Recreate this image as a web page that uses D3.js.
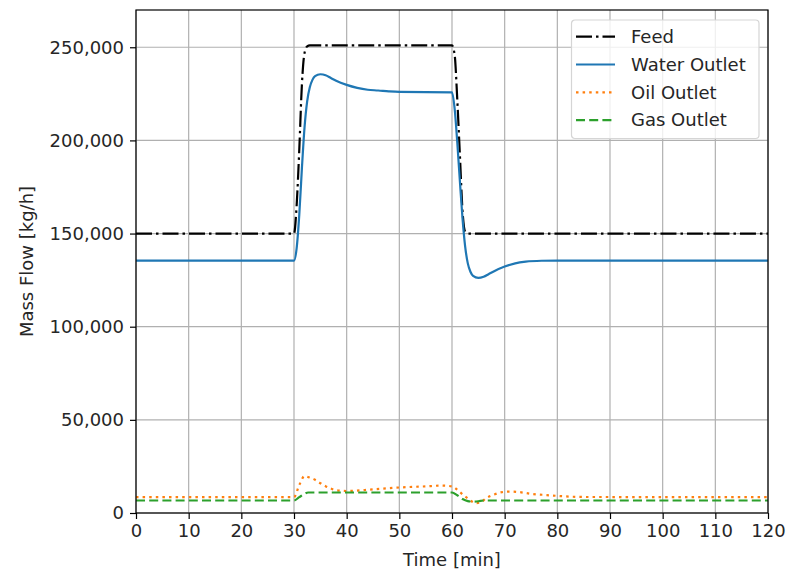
<!DOCTYPE html>
<html>
<head>
<meta charset="utf-8">
<script src="https://cdn.jsdelivr.net/npm/d3@7"></script>
<style>
  body { margin: 0; background: #fff; }
  svg { display: block; font-family: "DejaVu Sans", sans-serif; }
</style>
</head>
<body>
<svg id="chart" width="788" height="573"></svg>
<script>
// values
const feedTime = [0, 30, 30.5, 31, 31.5, 32, 32.5, 33, 60, 60.5, 61, 61.5, 62, 62.5, 63, 120];
const feedFlow = [150000, 150000, 165000, 195000, 230000, 247000, 250500, 251000,
  251000, 246000, 222000, 192000, 162000, 151000, 150000, 150000];

const waterTime = [0, 30, 30.5, 31, 31.5, 32, 32.5, 33, 33.5, 34, 35, 36, 37, 38, 40, 42, 44, 46, 48, 50,
  60, 60.5, 61, 61.5, 62, 62.5, 63, 63.5, 64, 65, 66, 67, 68, 70, 72, 74, 77, 80, 120];
const waterFlow = [135500, 135500, 142000, 160000, 185000, 207000, 221000, 228500, 232500, 234500,
  235500, 235000, 233500, 232000, 229800, 228200, 227200, 226800, 226300, 226000,
  225800, 217000, 199000, 178000, 158000, 143000, 134000, 129500, 127300, 126200,
  126800, 128300, 129800, 132300, 134000, 134900, 135400, 135500, 135500];

const oilTime = [0, 30, 31, 32, 33, 34, 35, 36, 37, 38, 40, 45, 50, 55, 58, 60, 61, 62, 63, 64, 64.5,
  65.5, 66.5, 68, 69.5, 71, 72.5, 75, 78, 81, 85, 120];
const oilFlow = [8500, 8500, 15000, 19800, 19000, 17800, 16000, 14400, 13100, 12200, 11800, 12700,
  13700, 14300, 14700, 14300, 12500, 10000, 7800, 5800, 5300, 5800, 8000, 9900, 11200, 11500,
  11300, 10300, 9600, 9000, 8600, 8500];

const gasTime = [0, 30, 31, 32, 32.7, 60, 61, 62, 63, 64, 65, 66, 120];
const gasFlow = [6700, 6700, 8500, 10300, 11000, 11000, 9500, 7500, 6400, 6100, 6300, 6700, 6700];

const seriesNames = ['Feed', 'Water Outlet', 'Oil Outlet', 'Gas Outlet'];
const xTicks = d3.range(0, 121, 10);
const yTicks = [0, 50000, 100000, 150000, 200000, 250000];

const series = [
  { name: seriesNames[0], t: feedTime, v: feedFlow, color: '#000000', dash: '16,4,2.5,4' },
  { name: seriesNames[1], t: waterTime, v: waterFlow, color: '#1f77b4', dash: null },
  { name: seriesNames[2], t: oilTime, v: oilFlow, color: '#ff7f0e', dash: '2.5,4.1' },
  { name: seriesNames[3], t: gasTime, v: gasFlow, color: '#2ca02c', dash: '9,4.2' },
];

const fontSize = 18;
const svg = d3.select('#chart');
const margin = { top: 10, right: 20, bottom: 60, left: 136 };
const width = 788 - margin.left - margin.right;
const height = 573 - margin.top - margin.bottom;

const x = d3.scaleLinear().domain([0, 120]).range([0, width]);
const y = d3.scaleLinear().domain([0, 270000]).range([height, 0]);

const g = svg.append('g').attr('transform', `translate(${margin.left},${margin.top})`);

// grid
g.append('g')
  .attr('stroke', '#b0b0b0')
  .attr('stroke-width', 1.2)
  .selectAll('line')
  .data(xTicks)
  .join('line')
  .attr('x1', d => x(d)).attr('x2', d => x(d))
  .attr('y1', 0).attr('y2', height);

g.append('g')
  .attr('stroke', '#b0b0b0')
  .attr('stroke-width', 1.2)
  .selectAll('line')
  .data(yTicks)
  .join('line')
  .attr('x1', 0).attr('x2', width)
  .attr('y1', d => y(d)).attr('y2', d => y(d));

// lines
const plot = g.append('g');
series.forEach(s => {
  const pts = s.t.map((t, i) => [t, s.v[i]]);
  const line = d3.line()
    .x(d => x(d[0]))
    .y(d => y(d[1]))
    .curve(d3.curveMonotoneX);
  plot.append('path')
    .datum(pts)
    .attr('fill', 'none')
    .attr('stroke', s.color)
    .attr('stroke-width', 2.2)
    .attr('stroke-dasharray', s.dash)
    .attr('d', line);
});

// axes
const xAxis = g.append('g')
  .attr('transform', `translate(0,${height})`)
  .call(d3.axisBottom(x).tickValues(xTicks).tickSize(6).tickPadding(5));
const yAxis = g.append('g')
  .call(d3.axisLeft(y).tickValues(yTicks).tickFormat(d3.format(',')).tickSize(6).tickPadding(6));

[xAxis, yAxis].forEach(a => {
  a.select('.domain').remove();
  a.selectAll('line').attr('stroke', '#000').attr('stroke-width', 1.2);
  a.selectAll('text').attr('font-size', fontSize).attr('fill', '#262626')
    .attr('font-family', '"DejaVu Sans", sans-serif');
});

// frame
g.append('rect')
  .attr('width', width).attr('height', height)
  .attr('fill', 'none').attr('stroke', '#000').attr('stroke-width', 1.2);

// axis labels
svg.append('text')
  .attr('x', margin.left + width / 2)
  .attr('y', 566)
  .attr('text-anchor', 'middle')
  .attr('font-size', fontSize)
  .attr('fill', '#262626')
  .text('Time [min]');

svg.append('text')
  .attr('transform', `translate(33,${margin.top + height / 2}) rotate(-90)`)
  .attr('text-anchor', 'middle')
  .attr('font-size', fontSize)
  .attr('fill', '#262626')
  .text('Mass Flow [kg/h]');

// legend
const legend = svg.append('g').attr('transform', 'translate(571.5,20)');
legend.append('rect')
  .attr('width', 187.5).attr('height', 118.5)
  .attr('rx', 3.5)
  .attr('fill', '#fff').attr('fill-opacity', 0.8)
  .attr('stroke', '#d5d5d5').attr('stroke-width', 1.2);

const item = legend.selectAll('g.item')
  .data(series)
  .join('g')
  .attr('class', 'item')
  .attr('transform', (d, i) => `translate(0,${16.7 + i * 27.8})`);

item.append('line')
  .attr('x1', 4.5).attr('x2', 43.5)
  .attr('stroke', d => d.color)
  .attr('stroke-width', 2.2)
  .attr('stroke-dasharray', d => d.dash);

item.append('text')
  .attr('x', 59.5)
  .attr('dy', '0.35em')
  .attr('font-size', fontSize)
  .attr('fill', '#262626')
  .text(d => d.name);
</script>
</body>
</html>
